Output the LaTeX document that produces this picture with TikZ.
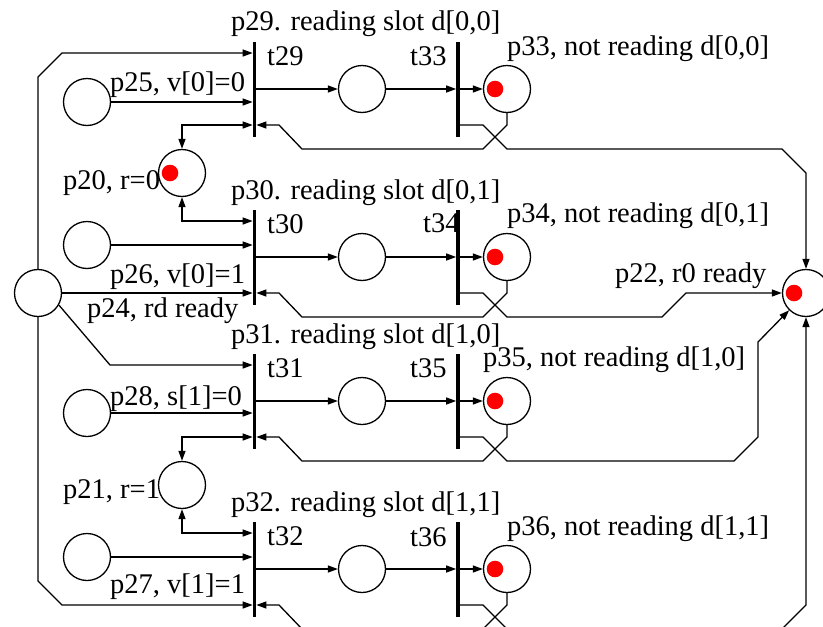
\documentclass[tikz,border=0pt]{standalone}
\usepackage{fontspec}
\setmainfont{Liberation Serif}
\usetikzlibrary{arrows.meta}

\tikzset{
  place/.style={circle, draw, line width=1.3pt, minimum size=47pt, inner sep=0pt},
  marked/.style={place, path picture={\fill[red] ([xshift=-12pt]path picture bounding box.center) circle (8.3pt);}},
  bar/.style={rectangle, fill=black, minimum width=3.3pt, minimum height=95pt, inner sep=0pt},
  arc/.style={line width=1.3pt, -{Triangle[length=10pt,width=7pt]}},
  rarc/.style={line width=1.3pt, {Triangle[length=10pt,width=7pt]}-{Triangle[length=10pt,width=7pt]}},
  lbl/.style={anchor=base west, inner sep=0pt, font=\fontsize{28.5}{34}\selectfont},
}

\begin{document}
\begin{tikzpicture}[x=1pt,y=-1pt]
\useasboundingbox (0,0) rectangle (823,627);
\clip (0,0) rectangle (823,627);

% places on the left
\node[place] (p24) at (38,293) {};
\node[place] (p25) at (87,102) {};
\node[place] (p26) at (87,245) {};
\node[place] (p28) at (87,413) {};
\node[place] (p27) at (87,557) {};
\node[marked] (p20) at (182,173) {};
\node[place] (p21) at (182,485) {};
\node[marked] (p22) at (806,293) {};

% transitions
\node[bar] (t29) at (254.5,89) {};
\node[bar] (t30) at (254.5,257) {};
\node[bar] (t31) at (254.5,401) {};
\node[bar] (t32) at (254.5,569) {};
\node[bar] (t33) at (458,89) {};
\node[bar] (t34) at (458,257) {};
\node[bar] (t35) at (458,401) {};
\node[bar] (t36) at (458,569) {};

% reading / not reading
\node[place] (p29) at (362,89) {};
\node[place] (p30) at (362,257) {};
\node[place] (p31) at (362,401) {};
\node[place] (p32) at (362,569) {};
\node[marked] (p33) at (507,89) {};
\node[marked] (p34) at (507,257) {};
\node[marked] (p35) at (507,401) {};
\node[marked] (p36) at (507,569) {};

% labels
\node[lbl] (lp29) at (231,30) {p29. reading slot d[0,0]};
\node[lbl] (lt29) at (267,65) {t29};
\node[lbl] (lt33) at (410,65) {t33};
\node[lbl] (lp33) at (507,55) {p33, not reading d[0,0]};
\node[lbl] (lp25) at (110,91) {p25, v[0]=0};
\node[lbl] (lp20) at (63,189) {p20, r=0};
\node[lbl] (lp30) at (231,199) {p30. reading slot d[0,1]};
\node[lbl] (lt30) at (267,233) {t30};
\node[lbl] (lt34) at (423,232) {t34};
\node[lbl] (lp34) at (507,222) {p34, not reading d[0,1]};
\node[lbl] (lp26) at (110,283) {p26, v[0]=1};
\node[lbl] (lp24) at (87,317) {p24, rd ready};
\node[lbl] (lp22) at (615,282) {p22, r0 ready};
\node[lbl] (lp31) at (231,343) {p31. reading slot d[1,0]};
\node[lbl] (lt31) at (267,377) {t31};
\node[lbl] (lt35) at (410,377) {t35};
\node[lbl] (lp35) at (483,366) {p35, not reading d[1,0]};
\node[lbl] (lp28) at (110,405) {p28, s[1]=0};
\node[lbl] (lp21) at (63,498) {p21, r=1};
\node[lbl] (lp32) at (231,511) {p32. reading slot d[1,1]};
\node[lbl] (lt32) at (267,545) {t32};
\node[lbl] (lt36) at (410,546) {t36};
\node[lbl] (lp36) at (507,535) {p36, not reading d[1,1]};
\node[lbl] (lp27) at (110,593) {p27, v[1]=1};

% slot d[0,0]
\draw[arc] (p24.north) -- (38,77) -- (62,53) -- (t29.west |- 0,53);
\draw[arc] (p25) -- (t29.west |- p25);
\draw[rarc] (p20.north) -- (182,125) -- (t29.west |- 0,125);
\draw[arc] (t29.east |- p29) -- (p29);
\draw[arc] (p29) -- (t33.west |- p29);
\draw[arc] (t33.east |- p33) -- (p33);
\draw[arc] (p33.south) -- (507,125) -- (483,149) -- (302,149) -- (279,125) -- (t29.east |- 0,125);
\draw[arc] (t33.east |- 0,125) -- (483,125) -- (507,149) -- (782,149) -- (806,173) -- (p22.north);

% slot d[0,1]
\draw[rarc] (p20.south) -- (182,221) -- (t30.west |- 0,221);
\draw[arc] (p26) -- (t30.west |- p26);
\draw[arc] (p24) -- (t30.west |- p24);
\draw[arc] (t30.east |- p30) -- (p30);
\draw[arc] (p30) -- (t34.west |- p30);
\draw[arc] (t34.east |- p34) -- (p34);
\draw[arc] (p34.south) -- (507,293) -- (483,317) -- (302,317) -- (279,293) -- (t30.east |- 0,293);
\draw[arc] (t34.east |- 0,293) -- (483,293) -- (507,317) -- (662,317) -- (686,293) -- (p22);

% slot d[1,0]
\draw[arc] (p24.-30) -- (110,365) -- (t31.west |- 0,365);
\draw[arc] (p28) -- (t31.west |- p28);
\draw[rarc] (p21.north) -- (182,437) -- (t31.west |- 0,437);
\draw[arc] (t31.east |- p31) -- (p31);
\draw[arc] (p31) -- (t35.west |- p31);
\draw[arc] (t35.east |- p35) -- (p35);
\draw[arc] (p35.south) -- (507,437) -- (483,461) -- (302,461) -- (279,437) -- (t31.east |- 0,437);
\draw[arc] (t35.east |- 0,437) -- (483,437) -- (507,461) -- (734,461) -- (758,437) -- (758,342) -- (p22);

% slot d[1,1]
\draw[rarc] (p21.south) -- (182,533) -- (t32.west |- 0,533);
\draw[arc] (p27) -- (t32.west |- p27);
\draw[arc] (p24.south) -- (38,581) -- (62,605) -- (t32.west |- 0,605);
\draw[arc] (t32.east |- p32) -- (p32);
\draw[arc] (p32) -- (t36.west |- p32);
\draw[arc] (t36.east |- p36) -- (p36);
\draw[arc] (p36.south) -- (507,605) -- (483,629) -- (302,629) -- (279,605) -- (t32.east |- 0,605);
\draw[arc] (t36.east |- 0,605) -- (483,605) -- (507,629) -- (782,629) -- (806,605) -- (p22.south);
\end{tikzpicture}
\end{document}
